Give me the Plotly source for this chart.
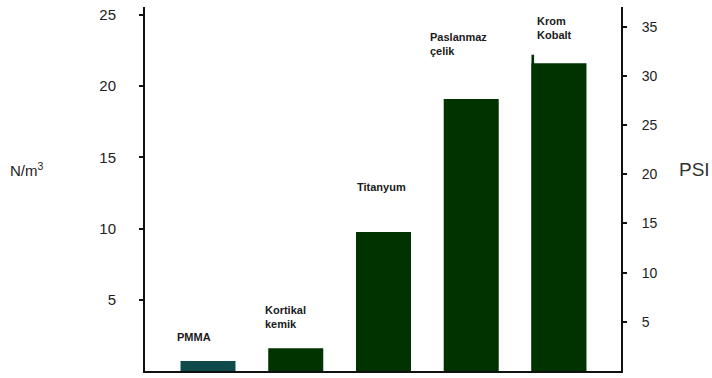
import plotly.graph_objects as go

categories = ["PMMA", "Kortikal kemik", "Titanyum", "Paslanmaz çelik", "Krom Kobalt"]
values_nm3 = [0.7, 1.6, 9.76, 19.1, 21.6]
bar_labels = ["PMMA", "Kortikal<br>kemik", "Titanyum", "Paslanmaz<br>çelik", "Krom<br>Kobalt"]
bar_colors = ["#0e4a4a", "#013301", "#013301", "#013301", "#013301"]
spike_value = 22.2  # thin edge mark on Krom Kobalt bar

left_ticks = [5, 10, 15, 20, 25]
right_ticks = [5, 10, 15, 20, 25, 30, 35]

# label placement (pixel shifts relative to bar centre/top)
label_xshift = [-33, -33, -28, -43, -24]
label_yshift = [16, 16, 37, 40, 20]

x = list(range(len(categories)))
W = 0.627

fig = go.Figure()
fig.add_trace(go.Bar(x=x, y=values_nm3, width=W, marker=dict(color=bar_colors, line=dict(width=0)),
                     showlegend=False, hoverinfo="skip"))
fig.add_trace(go.Bar(x=[x[-1]], y=[spike_value], width=0.03, offset=-W / 2,
                     marker=dict(color="#013301", line=dict(width=0)), showlegend=False, hoverinfo="skip"))
# dummy trace to activate right axis
fig.add_trace(go.Scatter(x=[None], y=[None], yaxis="y2", showlegend=False))

for i, (lab, v) in enumerate(zip(bar_labels, values_nm3)):
    fig.add_annotation(x=i, y=max(v, spike_value) if i == len(x) - 1 else v, text=lab, showarrow=False,
                       xanchor="left", yanchor="bottom", align="left",
                       xshift=label_xshift[i], yshift=label_yshift[i] - (8 if i == len(x) - 1 else 0),
                       font=dict(family="Liberation Sans, Arial", size=11, color="#1a1a1a", weight="bold"))

fig.add_annotation(xref="paper", yref="paper", x=-145 / 476 + 8 / 476, y=(371 - 172) / 360,
                   text="N/m<sup>3</sup>", showarrow=False, xanchor="left", yanchor="middle",
                   font=dict(family="Liberation Sans, Arial", size=15, color="#222"))
fig.add_annotation(xref="paper", yref="paper", x=(677 - 145) / 476, y=(371 - 172) / 360,
                   text="PSI", showarrow=False, xanchor="left", yanchor="middle",
                   font=dict(family="Liberation Sans, Arial", size=19, color="#333"))

fig.update_layout(
    width=712, height=378,
    margin=dict(l=145, r=91, t=7, b=7),
    paper_bgcolor="white", plot_bgcolor="white",
    barmode="overlay",
    xaxis=dict(range=[-0.718, 4.707], showticklabels=False, ticks="", showgrid=False, zeroline=False,
               showline=True, linecolor="#111", linewidth=2, fixedrange=True),
    yaxis=dict(range=[0, 25.55], tickvals=left_ticks, ticks="outside", ticklen=4, tickwidth=1.5,
               tickcolor="#111", showgrid=False, zeroline=False, showline=True, linecolor="#111",
               linewidth=2, ticklabelstandoff=20,
               tickfont=dict(family="Liberation Sans, Arial", size=15, color="#222")),
    yaxis2=dict(range=[0, 37.0], tickvals=right_ticks, overlaying="y", side="right", ticks="outside",
                ticklen=4, tickwidth=1.5, tickcolor="#111", showgrid=False, zeroline=False, showline=True,
                linecolor="#111", linewidth=2, ticklabelstandoff=12,
                tickfont=dict(family="Liberation Sans, Arial", size=14, color="#222")),
)

fig.write_html("out.html")
